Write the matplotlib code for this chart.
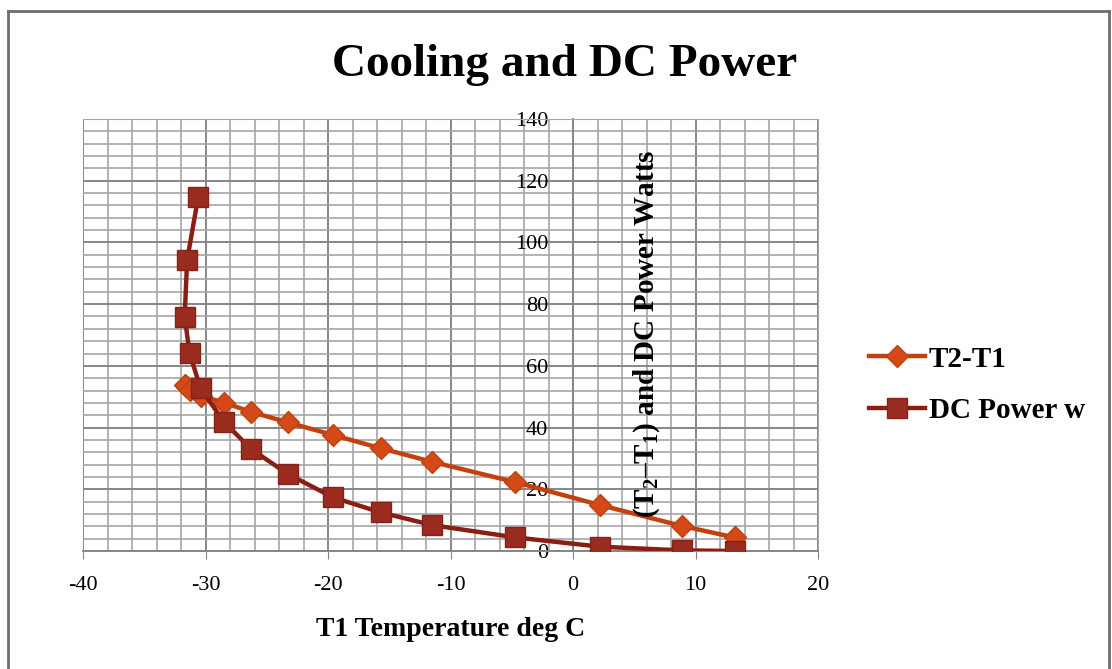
import matplotlib
matplotlib.use("Agg")
import matplotlib.pyplot as plt
from matplotlib.lines import Line2D
from matplotlib.ticker import MultipleLocator

# T1 temperature (deg C) for each reading
t1 = [-30.6, -31.5, -31.7, -31.3, -30.4, -28.5, -26.3, -23.3, -19.6, -15.7, -11.5, -4.7, 2.2, 8.9, 13.2]
# temperature difference T2-T1
dt = [51.5, 53.0, 53.8, 52.3, 50.3, 48.1, 45.1, 41.7, 37.6, 33.3, 28.9, 22.3, 14.9, 8.1, 4.4]
# DC power in watts
power = [114.6, 94.3, 75.9, 64.1, 52.7, 41.9, 33.1, 25.0, 17.4, 12.5, 8.4, 4.4, 1.4, 0.2, 0.0]

serif = "Liberation Serif"
plt.rcParams["font.family"] = serif
plt.rcParams["axes.unicode_minus"] = False
plt.rcParams["mathtext.fontset"] = "custom"
plt.rcParams["mathtext.rm"] = serif
plt.rcParams["mathtext.bf"] = serif + ":bold"

fig = plt.figure(figsize=(11.12, 6.69), dpi=100)
ax = fig.add_axes([83 / 1112, 1 - 551 / 669, 735 / 1112, 432 / 669])

ax.set_xlim(-40, 20)
ax.set_ylim(0, 140)
ax.xaxis.set_major_locator(MultipleLocator(10))
ax.xaxis.set_minor_locator(MultipleLocator(2))
ax.yaxis.set_major_locator(MultipleLocator(20))
ax.yaxis.set_minor_locator(MultipleLocator(4))
ax.grid(which="minor", color="#a6a6a6", lw=1.2)
ax.grid(which="major", color="#868686", lw=1.4)
ax.set_axisbelow(True)

for side in ["top", "right"]:
    ax.spines[side].set_color("#a6a6a6")
ax.spines["bottom"].set_color("#868686")
ax.spines["left"].set_position(("data", 0))
ax.spines["left"].set_color("#868686")
ax.spines["bottom"].set_linewidth(1.4)
ax.spines["left"].set_linewidth(1.4)

ax.tick_params(axis="x", which="major", direction="out", length=6, color="#868686",
               labelsize=16, pad=12)
ax.tick_params(axis="y", which="major", direction="out", length=0, labelsize=16, pad=18)
ax.tick_params(which="minor", length=0)

c_dt, c_dt_face = "#c2410e", "#d34a18"
c_pw, c_pw_face = "#8b1d12", "#992b1f"

ax.plot(t1, dt, color=c_dt, lw=3.2, marker="D", ms=11, mfc=c_dt_face, mec=c_dt,
        mew=1, zorder=3)
ax.plot(t1, power, color=c_pw, lw=3.2, marker="s", ms=15, mfc=c_pw_face, mec="#86221a",
        mew=1, zorder=4)

ax.text(6.0, 70.5, r"(T$_\mathbf{2}$–T$_\mathbf{1}$) and DC Power Watts", rotation=90,
        ha="center", va="center", fontsize=21, fontweight="bold")

ax.set_xlabel("T1 Temperature deg C", fontsize=20, fontweight="bold", labelpad=16)

fig.text(0.508, 0.903, "Cooling and DC Power", ha="center", va="center",
         fontsize=34, fontweight="bold")

handles = [
    Line2D([], [], color=c_dt, lw=3.2, marker="D", ms=11, mfc=c_dt_face, mec=c_dt),
    Line2D([], [], color=c_pw, lw=3.2, marker="s", ms=15, mfc=c_pw_face, mec="#86221a"),
]
fig.legend(handles, ["T2-T1", "DC Power w"], loc="center left",
           bbox_to_anchor=(843 / 1112, 1 - 385 / 669), frameon=False,
           prop={"family": serif, "weight": "bold", "size": 21},
           handlelength=1.9, handletextpad=0.15, labelspacing=0.85)

# chart border
for xs, ys in [((8, 8), (669, 11)), ((8, 1109), (11, 11)), ((1109, 1109), (11, 669))]:
    fig.add_artist(Line2D([x / 1112 for x in xs], [1 - y / 669 for y in ys],
                          color="#6e6e6e", lw=2, transform=fig.transFigure))

fig.savefig("out.png", dpi=100)
